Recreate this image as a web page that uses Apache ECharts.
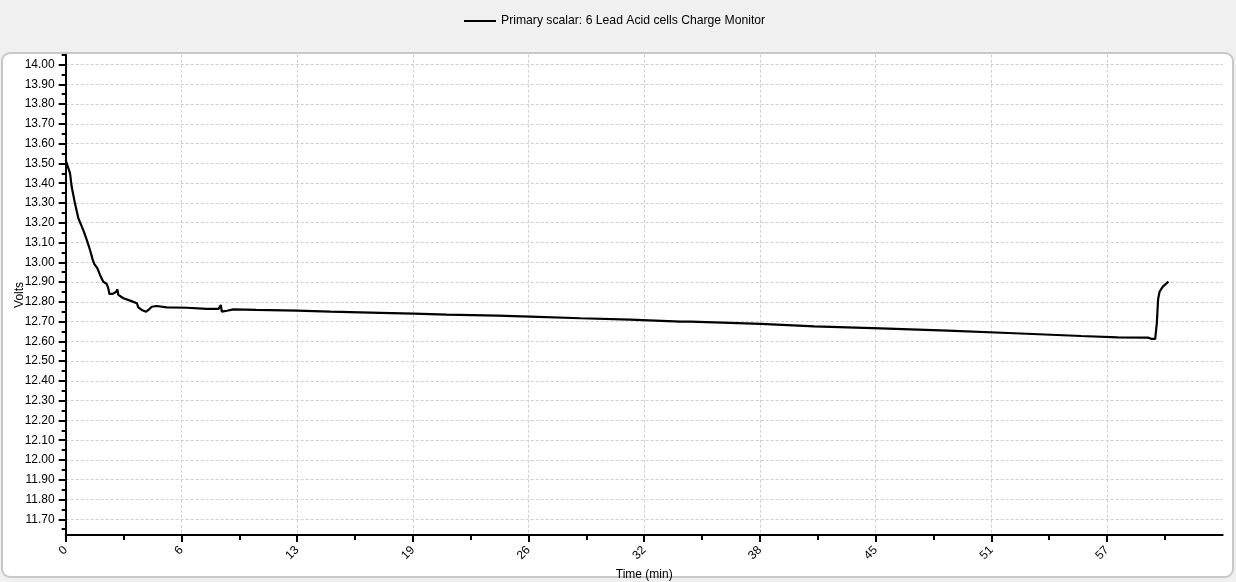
<!DOCTYPE html>
<html>
<head>
<meta charset="utf-8">
<script src="https://cdn.jsdelivr.net/npm/echarts@6/dist/echarts.min.js"></script>
<style>
html,body{margin:0;padding:0;background:#f0f0f0;}
#c{width:1236px;height:582px;}
</style>
</head>
<body>
<div id="c"></div>
<script>
var seriesName = 'Primary scalar: 6 Lead Acid cells Charge Monitor';
var times = [0, 0.07, 0.24, 0.33, 0.51, 0.70, 0.97, 1.16, 1.34, 1.49, 1.58, 1.74, 1.89, 2.07, 2.26, 2.30, 2.34, 2.41, 2.59, 2.78, 2.85, 2.90, 3.18, 3.55, 3.92, 4.00, 4.19, 4.43, 4.56, 4.74, 5.02, 5.57, 6.67, 7.78, 8.42, 8.55, 8.60, 8.69, 8.88, 9.24, 10.5, 12.74, 14.58, 17.34, 19.17, 21.0, 23.77, 25.6, 28.37, 31.1, 33.88, 34.44, 38.3, 41.24, 44.9, 48.6, 52.27, 55.95, 57.97, 59.45, 59.63, 59.81, 60.03, 60.08, 60.12, 60.19, 60.27, 60.45, 60.76];
var volts = [13.517, 13.514, 13.45, 13.382, 13.298, 13.222, 13.163, 13.113, 13.062, 13.012, 12.991, 12.97, 12.936, 12.902, 12.89, 12.90, 12.87, 12.84, 12.84, 12.851, 12.863, 12.835, 12.818, 12.806, 12.793, 12.772, 12.759, 12.75, 12.759, 12.775, 12.779, 12.772, 12.77, 12.764, 12.764, 12.784, 12.75, 12.742, 12.755, 12.762, 12.759, 12.755, 12.75, 12.744, 12.74, 12.735, 12.73, 12.725, 12.717, 12.71, 12.70, 12.70, 12.688, 12.676, 12.666, 12.654, 12.641, 12.627, 12.62, 12.619, 12.619, 12.613, 12.613, 12.613, 12.691, 12.813, 12.851, 12.877, 12.902];
var xTickValues = [0, 6.375, 12.75, 19.125, 25.5, 31.875, 38.25, 44.625, 51, 57.375];
var yTickValues = [11.7, 11.8, 11.9, 12.0, 12.1, 12.2, 12.3, 12.4, 12.5, 12.6, 12.7, 12.8, 12.9, 13.0, 13.1, 13.2, 13.3, 13.4, 13.5, 13.6, 13.7, 13.8, 13.9, 14.0];
var yMinorValues = [11.65, 11.75, 11.85, 11.95, 12.05, 12.15, 12.25, 12.35, 12.45, 12.55, 12.65, 12.75, 12.85, 12.95, 13.05, 13.15, 13.25, 13.35, 13.45, 13.55, 13.65, 13.75, 13.85, 13.95, 14.05];

var data = times.map(function (t, i) { return [t, volts[i]]; });
var FONT = 'Liberation Sans';
var chart = echarts.init(document.getElementById('c'), null, {renderer: 'canvas'});
chart.setOption({
  backgroundColor: '#f0f0f0',
  animation: false,
  textStyle: {fontFamily: FONT},
  graphic: [{
    type: 'rect', z: -10, silent: true,
    shape: {x: 2, y: 53, width: 1231, height: 524, r: 8},
    style: {fill: '#ffffff', stroke: '#c8c8c8', lineWidth: 2}
  }],
  legend: {
    left: 459, top: 10,
    icon: 'rect', itemWidth: 32, itemHeight: 2,
    textStyle: {fontFamily: FONT, fontSize: 12.2, color: '#000'},
    data: [seriesName]
  },
  grid: {left: 65.7, right: 13.3, top: 54.7, bottom: 46.9, containLabel: false, outerBoundsMode: 'none'},
  xAxis: {
    type: 'value', min: 0, max: 63.75, interval: 6.375,
    name: 'Time (min)', nameLocation: 'middle', nameGap: 33,
    nameTextStyle: {fontFamily: FONT, fontSize: 12, color: '#000'},
    axisLine: {show: true, onZero: false, lineStyle: {color: '#000', width: 2}},
    axisTick: {show: true, length: 7, lineStyle: {color: '#000', width: 2}, customValues: xTickValues},
    minorTick: {show: true, splitNumber: 2, length: 5, lineStyle: {color: '#000', width: 2}},
    axisLabel: {
      customValues: xTickValues, rotate: 45, margin: 13,
      fontFamily: FONT, fontSize: 12, color: '#000',
      formatter: function (v) { return String(Math.round(v)); }
    },
    splitLine: {show: true, lineStyle: {color: '#cfcfcf', type: [3, 2], width: 1}}
  },
  yAxis: [{
    type: 'value', min: 11.62, max: 14.05,
    name: 'Volts', nameLocation: 'middle', nameGap: 40, nameRotate: 90, nameMoveOverlap: false,
    nameTextStyle: {fontFamily: FONT, fontSize: 12, color: '#000'},
    axisLine: {show: true, onZero: false, lineStyle: {color: '#000', width: 2}},
    axisTick: {show: true, length: 7, lineStyle: {color: '#000', width: 2}, customValues: yTickValues},
    axisLabel: {
      customValues: yTickValues, margin: 11,
      fontFamily: FONT, fontSize: 12, color: '#000',
      formatter: function (v) { return v.toFixed(2); }
    },
    splitLine: {show: true, lineStyle: {color: '#cfcfcf', type: [3, 2], width: 1}}
  }, {
    type: 'value', min: 11.62, max: 14.05, position: 'left',
    axisLine: {show: false},
    axisTick: {show: true, length: 4, lineStyle: {color: '#000', width: 2}, customValues: yMinorValues},
    axisLabel: {show: false},
    splitLine: {show: false}
  }],
  series: [{
    name: seriesName, type: 'line', data: data,
    showSymbol: false, symbol: 'none',
    lineStyle: {color: '#000', width: 2.2},
    itemStyle: {color: '#000'}
  }]
});
</script>
</body>
</html>
